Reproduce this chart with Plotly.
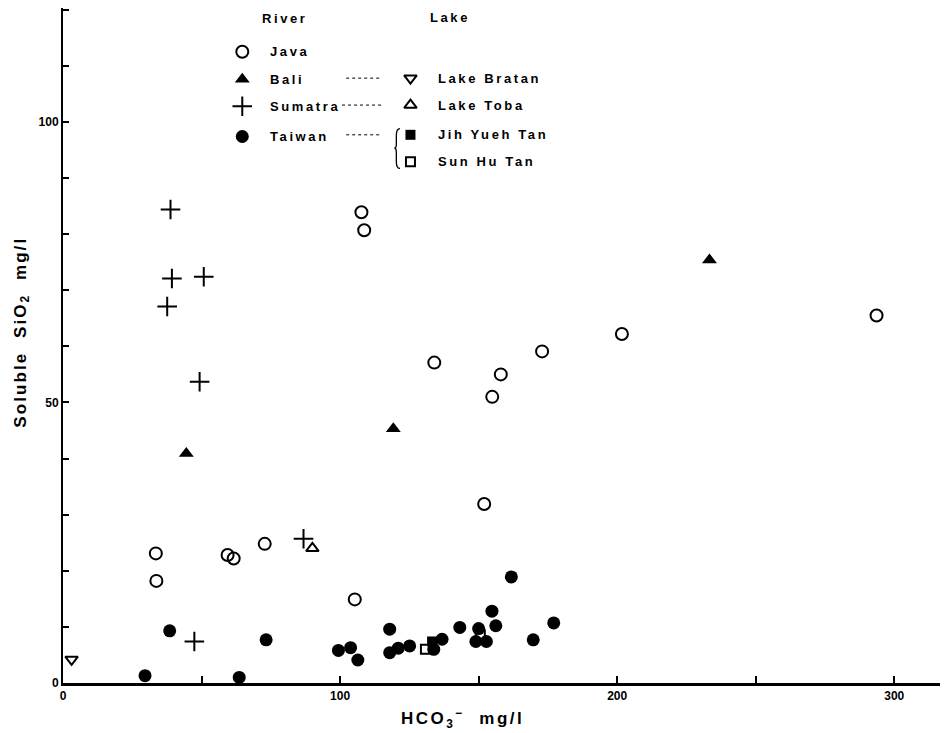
import plotly.graph_objects as go

# ---- data (HCO3- mg/l, soluble SiO2 mg/l) ----
java_x = [33.5, 33.7, 59.4, 61.6, 72.8, 105.3, 107.7, 108.7, 134.0, 152.0, 154.9, 158.0, 172.9, 201.7, 293.6]
java_y = [23.1, 18.2, 22.8, 22.2, 24.8, 14.9, 83.9, 80.7, 57.1, 31.9, 51.0, 55.0, 59.1, 62.2, 65.5]

bali_x = [44.5, 119.2, 233.3]
bali_y = [40.9, 45.3, 75.4]

sumatra_x = [38.8, 39.3, 50.8, 37.6, 49.3, 47.4, 86.8]
sumatra_y = [84.4, 72.1, 72.4, 67.1, 53.7, 7.4, 25.7]

taiwan_x = [29.6, 38.5, 63.6, 73.3, 99.4, 103.8, 106.4, 117.9, 117.9, 121.0, 125.1, 133.8, 136.8,
            143.2, 150.0, 149.0, 152.8, 154.8, 156.2, 161.8, 169.7, 177.1]
taiwan_y = [1.3, 9.3, 1.0, 7.7, 5.8, 6.3, 4.1, 9.6, 5.4, 6.2, 6.6, 6.0, 7.8,
            9.9, 9.7, 7.4, 7.4, 12.8, 10.2, 18.9, 7.7, 10.7]

bratan_x = [3.1]
bratan_y = [4.2]

toba_x = [90.0]
toba_y = [24.0]

jihyueh_x = [133.2]
jihyueh_y = [7.4]

sunhu_x = [130.8, 150.6]
sunhu_y = [6.0, 8.6]

x_tick_labels = ["0", "100", "200", "300"]
y_tick_labels = ["0", "50", "100"]

# ---- styles ----
BLK = "black"
styles = {
    "Java": dict(symbol="circle-open", size=12, color=BLK, line=dict(width=2, color=BLK)),
    "Bali": dict(symbol="triangle-up", size=13, color=BLK, line=dict(width=0)),
    "Sumatra": dict(symbol="cross-thin", size=14, color=BLK, line=dict(width=2, color=BLK)),
    "Taiwan": dict(symbol="circle", size=13, color=BLK, line=dict(width=0)),
    "Lake Bratan": dict(symbol="triangle-down-open", size=11, color=BLK, line=dict(width=2, color=BLK)),
    "Lake Toba": dict(symbol="triangle-up-open", size=11, color=BLK, line=dict(width=2, color=BLK)),
    "Jih Yueh Tan": dict(symbol="square", size=10, color=BLK, line=dict(width=0)),
    "Sun Hu Tan": dict(symbol="square-open", size=9, color=BLK, line=dict(width=2, color=BLK)),
}

series = [
    ("Java", java_x, java_y),
    ("Bali", bali_x, bali_y),
    ("Sumatra", sumatra_x, sumatra_y),
    ("Taiwan", taiwan_x, taiwan_y),
    ("Lake Bratan", bratan_x, bratan_y),
    ("Lake Toba", toba_x, toba_y),
    ("Jih Yueh Tan", jihyueh_x, jihyueh_y),
    ("Sun Hu Tan", sunhu_x, sunhu_y),
]

fig = go.Figure()
for name, xs, ys in series:
    fig.add_trace(go.Scatter(x=xs, y=ys, mode="markers", name=name,
                             marker=styles[name], showlegend=False, cliponaxis=False))

# ---- hand-built legend (positions in data units) ----
FONT = "Liberation Sans"


def spaced(t, sp=2.6):
    return '<span style="letter-spacing:%.1fpx">%s</span>' % (sp, t)


leg_font = dict(family=FONT, size=13, color=BLK, weight="bold")
leg_river = [("Java", 112.5), ("Bali", 107.6), ("Sumatra", 102.8), ("Taiwan", 97.4)]
leg_lake = [("Lake Bratan", 107.8), ("Lake Toba", 103.0), ("Jih Yueh Tan", 97.7), ("Sun Hu Tan", 92.9)]

annotations = []
for name, yy in leg_river:
    fig.add_trace(go.Scatter(x=[64.7], y=[yy], mode="markers", marker=styles[name],
                             showlegend=False, cliponaxis=False, hoverinfo="skip"))
    annotations.append(dict(x=74.0, y=yy, text=spaced(name), showarrow=False, xanchor="left",
                            font=leg_font))
for name, yy in leg_lake:
    fig.add_trace(go.Scatter(x=[125.4], y=[yy], mode="markers", marker=styles[name],
                             showlegend=False, cliponaxis=False, hoverinfo="skip"))
    annotations.append(dict(x=134.5, y=yy, text=spaced(name), showarrow=False, xanchor="left",
                            font=leg_font))

annotations.append(dict(x=80.0, y=118.4, text=spaced("River"), showarrow=False, font=leg_font))
annotations.append(dict(x=139.8, y=118.6, text=spaced("Lake"), showarrow=False, font=leg_font))

shapes = []
for x0, yy in [(102.2, 107.8), (100.7, 103.0), (102.2, 97.7)]:
    shapes.append(dict(type="line", x0=x0, x1=115.1, y0=yy, y1=yy,
                       line=dict(color=BLK, width=1, dash="dot")))
# brace
shapes.append(dict(type="path",
                   path="M 121.6,98.8 Q 120.3,98.8 120.3,97.6 L 120.3,96.0 Q 120.3,95.3 119.6,95.3 "
                        "Q 120.3,95.3 120.3,94.6 L 120.3,92.9 Q 120.3,91.7 121.6,91.7",
                   line=dict(color=BLK, width=1.3)))

# axis titles
title_font = dict(family=FONT, size=17, color=BLK, weight="bold")
annotations.append(dict(xref="paper", yref="paper", x=-0.047, y=0.52, textangle=-90,
                        text=spaced("Soluble  SiO<sub>2</sub>  mg/l", 2.1), showarrow=False,
                        xanchor="center", yanchor="middle", font=title_font))
annotations.append(dict(xref="paper", yref="paper", x=0.455, y=-0.053, yanchor="middle",
                        text=spaced("HCO<sub>3</sub><sup>−</sup>  mg/l", 2.5), showarrow=False,
                        font=title_font))

tick_font = dict(size=12, family=FONT, color=BLK, weight="bold")
fig.update_layout(
    width=941, height=724,
    margin=dict(l=55, r=9, t=0, b=49),
    paper_bgcolor="white", plot_bgcolor="white",
    font=dict(family=FONT, color=BLK),
    annotations=annotations, shapes=shapes,
    xaxis=dict(range=[0, 316.5], tickvals=[0, 100, 200, 300], ticktext=x_tick_labels,
               ticks="inside", ticklen=7, tickwidth=1.5, tickcolor=BLK,
               minor=dict(tickvals=[50, 150, 250], ticks="inside", ticklen=7, tickwidth=1.5, tickcolor=BLK),
               showline=True, linecolor=BLK, linewidth=2.5, showgrid=False, zeroline=False,
               tickfont=tick_font),
    yaxis=dict(range=[0, 120.3], tickvals=[0, 50, 100], ticktext=y_tick_labels,
               ticks="inside", ticklen=6, tickwidth=1.5, tickcolor=BLK,
               minor=dict(dtick=10, ticks="inside", ticklen=6, tickwidth=1.5, tickcolor=BLK),
               showline=True, linecolor=BLK, linewidth=2, showgrid=False, zeroline=False,
               tickfont=tick_font),
)

fig.write_html("out.html")
